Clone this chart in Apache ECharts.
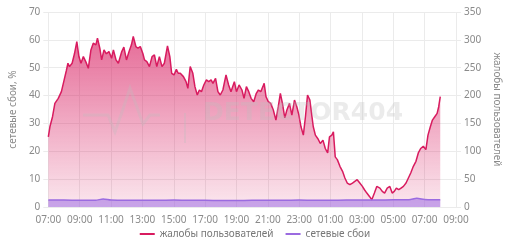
<!DOCTYPE html>
<html><head><meta charset="utf-8">
<script src="https://cdn.jsdelivr.net/npm/echarts@6/dist/echarts.min.js"></script>
<style>html,body{margin:0;padding:0;background:#fff}#c{width:510px;height:251px}</style>
</head><body><div id="c"></div>
<script>
// minutes since 07:00 (day 1) -> complaints count (right axis)
const complaintMinutes = [0,6,16,25,38,50,59,69,75,81,91,100,109,117,125,134,144,153,163,172,182,188,197,204,213,222,232,242,
249,259,268,281,289,299,309,318,325,335,343,352,362,368,377,387,397,406,415,425,435,444,456,465,472,481,490,497,
505,517,527,534,543,553,561,570,578,586,595,605,614,623,630,640,649,658,668,680,690,699,712,720,730,741,749,
758,767,776,786,796,804,813,821,826,833,842,851,861,871,880,888,896,905,913,923,932,942,951,959,967,976,984,992,1001,1009,
1014,1022,1031,1041,1051,1060,1069,1076,1085,1091,1098,1106,1116,1126,1135,1144,1154,1164,1173,1182,1192,1202,1210,1219,1229,1238,1248,1257,1264,
1269,1278,1287,1297,1307,1316,1324,1332,1341,1350,1359,1369,1378,1387,1397,1407,1416,1425,1435,1445,1453,1462,1470,1479,1488,1494,1500];
const complaintValues = [126,144,162,186,195,207,225,245,258,252,258,275,297,270,258,270,260,249,282,294,291,303,285,264,282,275,279,267,
282,264,258,279,287,264,279,291,306,288,285,288,275,264,261,252,270,273,252,270,252,258,289,270,240,237,247,240,
240,234,225,213,252,240,216,201,210,207,219,228,225,228,222,231,207,201,210,237,219,207,225,207,219,210,195,
216,207,195,189,204,210,207,216,222,198,189,186,174,156,180,204,186,160,174,186,165,192,180,165,144,129,162,201,192,162,
144,129,123,114,120,105,97,126,129,135,90,85,73,64,52,43,40,43,46,49,43,37,31,25,19,13,25,37,40,
34,28,25,34,37,25,28,34,31,34,37,43,52,61,73,82,97,105,109,103,129,144,156,162,168,180,198];
// network failures, %
const failureMinutes = [0,60,120,180,210,240,300,360,420,480,540,600,660,720,780,840,900,960,1020,1080,1140,1200,1260,1320,1380,1410,1440,1470,1500];
const failureValues  = [2.5,2.5,2.4,2.4,2.9,2.5,2.4,2.4,2.4,2.5,2.4,2.4,2.3,2.3,2.4,2.4,2.4,2.5,2.4,2.4,2.5,2.5,2.5,2.6,2.6,3.1,2.7,2.6,2.6];
const xTickLabels = ['07:00','09:00','11:00','13:00','15:00','17:00','19:00','21:00','23:00','01:00','03:00','05:00','07:00','09:00'];
const seriesNames = ['жалобы пользователей','сетевые сбои'];
const leftAxisName = 'сетевые сбои, %';
const rightAxisName = 'жалобы пользователей';

const chart = echarts.init(document.getElementById('c'));
const font = '"Noto Sans", "Open Sans", sans-serif';
const labelColor = '#8a8a8a';
const gridColor = '#ebebeb';
chart.setOption({
  animation: false,
  textStyle: {fontFamily: font},
  grid: {left: 45, right: 50, top: 12, bottom: 44},
  legend: {
    bottom: 7, left: 'center', icon: 'rect', itemWidth: 15, itemHeight: 2, itemGap: 12,
    textStyle: {color: '#777', fontSize: 10, fontFamily: font},
    data: seriesNames
  },
  graphic: [
    {type: 'text', left: 203, top: 101, z: 100, silent: true,
     style: {text: 'DETECTOR404', font: '900 25px "DejaVu Sans", sans-serif', fill: 'rgba(190,190,190,0.3)'}},
    {type: 'polyline', z: 100, silent: true,
     shape: {points: [[83,115],[108,115],[115,132],[122,112],[130,88],[143,124],[150,115],[160,115]]},
     style: {stroke: 'rgba(190,190,190,0.3)', lineWidth: 3, fill: null}},
    {type: 'line', z: 100, silent: true,
     shape: {x1: 185, y1: 113, x2: 185, y2: 143},
     style: {stroke: 'rgba(190,190,190,0.3)', lineWidth: 2}}
  ],
  xAxis: {
    type: 'value', min: 0, max: 1560, interval: 120,
    axisLine: {show: true, lineStyle: {color: gridColor}},
    axisTick: {show: false},
    splitLine: {show: true, lineStyle: {color: gridColor}},
    axisLabel: {color: labelColor, fontSize: 10, margin: 8,
      formatter: v => xTickLabels[Math.round(v / 120)]}
  },
  yAxis: [
    {type: 'value', min: 0, max: 70, interval: 10, name: leftAxisName,
     nameLocation: 'middle', nameGap: 30, nameRotate: 90,
     nameTextStyle: {color: labelColor, fontSize: 10},
     axisLine: {show: false},
     axisTick: {show: true, length: 5, lineStyle: {color: gridColor}},
     splitLine: {lineStyle: {color: gridColor}},
     axisLabel: {color: labelColor, fontSize: 10, margin: 8}},
    {type: 'value', min: 0, max: 350, interval: 50, name: rightAxisName,
     nameLocation: 'middle', nameGap: 36, nameRotate: -90,
     nameTextStyle: {color: labelColor, fontSize: 10},
     axisLine: {show: false},
     axisTick: {show: true, length: 5, lineStyle: {color: gridColor}},
     splitLine: {show: false},
     axisLabel: {color: labelColor, fontSize: 10, margin: 8}}
  ],
  series: [
    {name: seriesNames[0], type: 'line', yAxisIndex: 1, symbol: 'none',
     data: complaintMinutes.map((m, i) => [m, complaintValues[i]]),
     lineStyle: {color: '#d81b5f', width: 1.5}, itemStyle: {color: '#d81b5f'},
     areaStyle: {color: new echarts.graphic.LinearGradient(0, 0, 0, 1, [
       {offset: 0, color: 'rgba(216,27,95,0.92)'},
       {offset: 1, color: 'rgba(216,27,95,0.15)'}
     ])}},
    {name: seriesNames[1], type: 'line', yAxisIndex: 0, symbol: 'none', smooth: 0.3,
     data: failureMinutes.map((m, i) => [m, failureValues[i]]),
     lineStyle: {color: '#9b6be0', width: 1.5}, itemStyle: {color: '#9b6be0'},
     areaStyle: {color: 'rgba(165,115,228,0.85)'}}
  ]
});
</script></body></html>
